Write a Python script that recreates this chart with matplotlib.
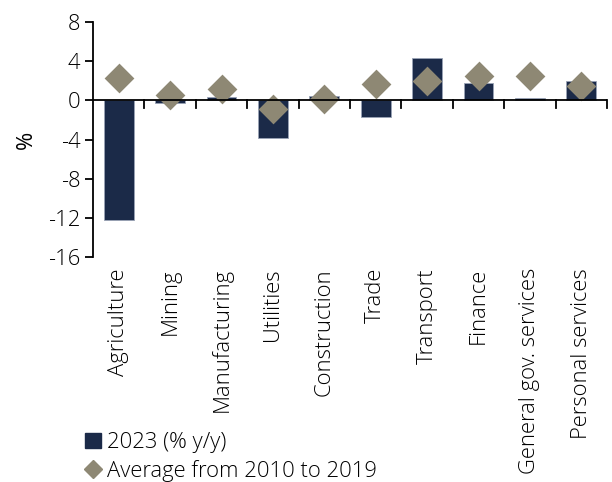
import matplotlib
matplotlib.use("Agg")
import matplotlib.pyplot as plt
from matplotlib.lines import Line2D
from matplotlib.patches import Patch
import numpy as np

categories = ["Agriculture", "Mining", "Manufacturing", "Utilities", "Construction",
              "Trade", "Transport", "Finance", "General gov. services", "Personal services"]
growth_2023 = [-12.2, -0.3, 0.4, -3.8, 0.5, -1.7, 4.3, 1.8, 0.2, 2.0]
avg_2010_2019 = [2.3, 0.6, 1.2, -0.9, 0.1, 1.7, 2.0, 2.5, 2.5, 1.5]
yticks = [8, 4, 0, -4, -8, -12, -16]

navy = "#1b2a48"
taupe = "#8e8874"

plt.rcParams["font.family"] = ["Open Sans", "DejaVu Sans"]
plt.rcParams["font.weight"] = "light"
fs = 15.8

fig = plt.figure(figsize=(6.12, 4.82), dpi=100)
ax = fig.add_axes([0.152, 0.467, 0.840, 0.487])

x = np.arange(len(categories))
ax.bar(x, growth_2023, width=0.58, color=navy, edgecolor="#9aa3b5", linewidth=0.6, zorder=2)
ax.scatter(x, avg_2010_2019, marker="D", s=230, color=taupe, zorder=3, linewidths=0)

ax.set_xlim(-0.5, len(categories) - 0.5)
ax.set_ylim(-16, 8)
ax.set_yticks(yticks)
ax.set_yticklabels([str(t) for t in yticks], fontsize=fs)
ax.set_ylabel("%", fontsize=fs, labelpad=8)

for s in ["top", "right", "bottom"]:
    ax.spines[s].set_visible(False)
ax.spines["left"].set_linewidth(1.3)
ax.axhline(0, color="black", linewidth=1.3, zorder=4)

# category separators hanging below the zero line
for b in np.arange(0.5, len(categories), 1.0):
    ax.plot([b, b], [0, -0.8], color="black", linewidth=1.3, zorder=4, clip_on=False)

ax.tick_params(axis="y", direction="out", length=6, width=1.3, pad=3)
ax.set_xticks(x)
ax.set_xticklabels(categories, rotation=90, fontsize=fs, va="top")
ax.tick_params(axis="x", length=0, pad=8)

handles = [Patch(facecolor=navy, edgecolor=navy),
           Line2D([], [], marker="D", linestyle="none", markersize=9,
                  markerfacecolor=taupe, markeredgecolor=taupe)]
fig.legend(handles, ["2023 (% y/y)", "Average from 2010 to 2019"],
           loc="lower left", bbox_to_anchor=(0.125, -0.018), frameon=False,
           fontsize=fs, handlelength=0.7, handletextpad=0.3, labelspacing=0.3,
           borderaxespad=0)

fig.savefig("out.png", dpi=100)
